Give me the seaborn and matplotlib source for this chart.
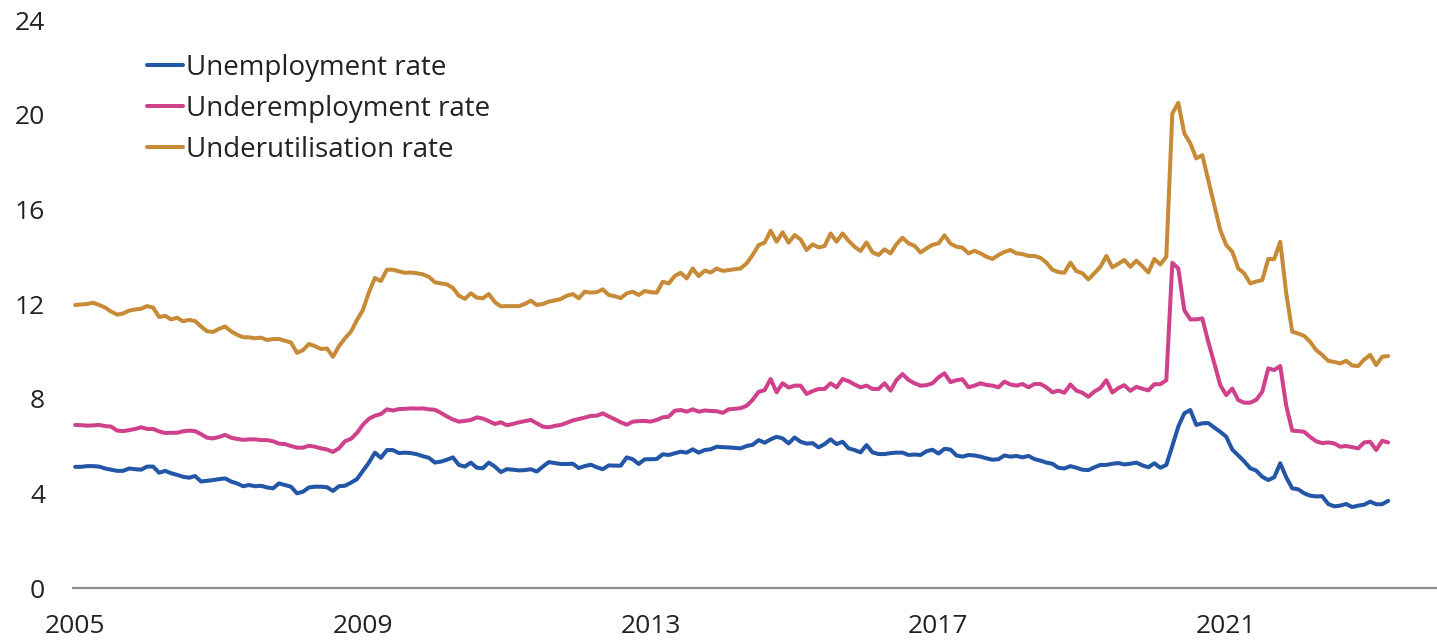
import numpy as np
import pandas as pd
import seaborn as sns
import matplotlib.pyplot as plt

# monthly data, Jan 2005 - Apr 2023 (per cent)
unemployment = [
    5.12, 5.12, 5.15, 5.15, 5.13, 5.05, 5.0, 4.95, 4.95, 5.05, 5.02, 5.0,
    5.13, 5.13, 4.87, 4.95, 4.85, 4.78, 4.7, 4.66, 4.73, 4.5, 4.53, 4.56,
    4.6, 4.63, 4.5, 4.42, 4.3, 4.35, 4.3, 4.32, 4.25, 4.21, 4.42, 4.35,
    4.28, 4.0, 4.07, 4.25, 4.28, 4.28, 4.26, 4.1, 4.3, 4.32, 4.45, 4.6,
    4.95, 5.3, 5.72, 5.5, 5.83, 5.83, 5.7, 5.72, 5.7, 5.65, 5.57, 5.5,
    5.3, 5.34, 5.42, 5.52, 5.2, 5.13, 5.3, 5.08, 5.06, 5.3, 5.13, 4.9,
    5.02, 5.0, 4.97, 4.98, 5.02, 4.92, 5.13, 5.32, 5.28, 5.24, 5.24, 5.25,
    5.07, 5.15, 5.21, 5.1, 5.02, 5.18, 5.17, 5.17, 5.52, 5.44, 5.24, 5.44,
    5.44, 5.45, 5.65, 5.62, 5.69, 5.76, 5.72, 5.86, 5.72, 5.83, 5.86, 5.97,
    5.95, 5.94, 5.92, 5.9, 6.0, 6.05, 6.25, 6.14, 6.28, 6.39, 6.32, 6.11,
    6.36, 6.18, 6.1, 6.12, 5.94, 6.08, 6.28, 6.08, 6.18, 5.9, 5.83, 5.73,
    6.04, 5.73, 5.66, 5.66, 5.7, 5.72, 5.72, 5.62, 5.64, 5.62, 5.78, 5.84,
    5.68, 5.88, 5.85, 5.6, 5.55, 5.62, 5.6, 5.55, 5.48, 5.42, 5.44, 5.6,
    5.55, 5.58, 5.52, 5.58, 5.45, 5.38, 5.3, 5.25, 5.08, 5.05, 5.15, 5.08,
    5.0, 4.98, 5.1, 5.2, 5.2, 5.25, 5.28, 5.22, 5.25, 5.3, 5.18, 5.1,
    5.27, 5.08, 5.2, 6.0, 6.82, 7.38, 7.52, 6.89, 6.96, 6.97, 6.78, 6.6,
    6.39, 5.85, 5.6, 5.35, 5.06, 4.96, 4.7, 4.56, 4.68, 5.27, 4.68, 4.21,
    4.17, 4.0, 3.9, 3.87, 3.88, 3.55, 3.45, 3.48, 3.55, 3.42, 3.48, 3.52,
    3.65, 3.54, 3.54, 3.68,
]

underemployment = [
    6.89, 6.88, 6.86, 6.87, 6.89, 6.84, 6.82, 6.65, 6.63, 6.67, 6.72, 6.79,
    6.72, 6.72, 6.62, 6.55, 6.56, 6.56, 6.62, 6.65, 6.63, 6.5, 6.35, 6.32,
    6.38, 6.47, 6.35, 6.3, 6.26, 6.28, 6.28, 6.25, 6.25, 6.2, 6.1, 6.08,
    6.0, 5.93, 5.93, 6.01, 5.97, 5.9, 5.85, 5.75, 5.9, 6.2, 6.3, 6.55,
    6.9, 7.15, 7.28, 7.35, 7.55, 7.5, 7.56, 7.57, 7.59, 7.58, 7.59, 7.55,
    7.53, 7.4, 7.25, 7.12, 7.03, 7.06, 7.1, 7.21, 7.16, 7.05, 6.93, 7.0,
    6.88, 6.93, 7.0, 7.05, 7.1, 6.96, 6.82, 6.79, 6.85, 6.89, 6.98, 7.08,
    7.14, 7.2, 7.27, 7.28, 7.38, 7.25, 7.13, 7.0, 6.9, 7.03, 7.05, 7.06,
    7.03, 7.1, 7.21, 7.24, 7.49, 7.52, 7.45, 7.55, 7.45, 7.5, 7.48, 7.47,
    7.4, 7.55, 7.57, 7.6, 7.7, 7.95, 8.29, 8.36, 8.83, 8.27, 8.65, 8.47,
    8.55, 8.55, 8.2, 8.32, 8.41, 8.41, 8.65, 8.48, 8.83, 8.74, 8.6, 8.48,
    8.55, 8.41, 8.41, 8.65, 8.34, 8.79, 9.04, 8.79, 8.65, 8.55, 8.57, 8.65,
    8.9, 9.07, 8.7, 8.78, 8.82, 8.48, 8.55, 8.65, 8.58, 8.55, 8.48, 8.72,
    8.6, 8.55, 8.62, 8.48, 8.62, 8.62, 8.48, 8.27, 8.34, 8.25, 8.6, 8.34,
    8.25, 8.08, 8.3, 8.45, 8.78, 8.26, 8.45, 8.57, 8.33, 8.5, 8.42, 8.35,
    8.61, 8.61, 8.78, 13.74, 13.5, 11.74, 11.35, 11.35, 11.39, 10.4, 9.5, 8.57,
    8.15, 8.43, 7.94, 7.83, 7.83, 7.95, 8.29, 9.28, 9.21, 9.38, 7.7, 6.65,
    6.63, 6.6, 6.38, 6.2, 6.12, 6.15, 6.11, 5.97, 6.0, 5.95, 5.9, 6.15,
    6.18, 5.83, 6.22, 6.15,
]

underutilisation = [
    11.96, 11.98, 12.0, 12.05, 11.96, 11.85, 11.68, 11.55, 11.6, 11.72, 11.77, 11.8,
    11.91, 11.85, 11.45, 11.5, 11.35, 11.42, 11.27, 11.33, 11.28, 11.05, 10.85, 10.82,
    10.95, 11.05, 10.85, 10.7, 10.6, 10.59, 10.55, 10.58, 10.48, 10.52, 10.52, 10.45,
    10.37, 9.94, 10.05, 10.31, 10.22, 10.1, 10.12, 9.77, 10.22, 10.55, 10.83, 11.32,
    11.75, 12.5, 13.1, 12.97, 13.45, 13.45, 13.38, 13.32, 13.33, 13.3, 13.25, 13.15,
    12.92, 12.87, 12.83, 12.68, 12.35, 12.22, 12.45, 12.27, 12.24, 12.42, 12.08, 11.9,
    11.91, 11.91, 11.91, 12.0, 12.14, 11.96, 12.0, 12.1, 12.15, 12.21, 12.35, 12.42,
    12.24, 12.52, 12.48, 12.5, 12.62, 12.38, 12.33, 12.25, 12.45, 12.52, 12.38, 12.55,
    12.5, 12.48, 12.94, 12.87, 13.18, 13.32, 13.08, 13.5, 13.18, 13.41, 13.33, 13.5,
    13.4, 13.43, 13.47, 13.5, 13.72, 14.07, 14.49, 14.59, 15.1, 14.63, 15.03, 14.59,
    14.91, 14.73, 14.28, 14.52, 14.39, 14.45, 14.98, 14.63, 14.98, 14.67, 14.42, 14.24,
    14.6, 14.18, 14.07, 14.31, 14.14, 14.53, 14.8, 14.56, 14.46, 14.18, 14.35, 14.5,
    14.56, 14.9, 14.55, 14.42, 14.38, 14.14, 14.25, 14.14, 14.0, 13.9, 14.07, 14.2,
    14.28, 14.14, 14.11, 14.03, 14.03, 13.95, 13.75, 13.45, 13.35, 13.32, 13.75, 13.39,
    13.3, 13.04, 13.3, 13.57, 14.03, 13.55, 13.7, 13.86, 13.57, 13.83, 13.6, 13.33,
    13.9, 13.67, 14.0, 20.05, 20.5, 19.21, 18.79, 18.15, 18.29, 17.24, 16.2, 15.12,
    14.49, 14.21, 13.5, 13.29, 12.87, 12.95, 13.01, 13.9, 13.9, 14.63, 12.45, 10.83,
    10.75, 10.65, 10.4, 10.05, 9.85, 9.6, 9.55, 9.49, 9.6, 9.4, 9.38, 9.65,
    9.85, 9.42, 9.77, 9.8,
]

series_names = ["Unemployment rate", "Underemployment rate", "Underutilisation rate"]
colors = ["#2356a6", "#cf418b", "#c78b38"]
year_ticks = [2005, 2009, 2013, 2017, 2021]
y_ticks = [0, 4, 8, 12, 16, 20, 24]

months = np.arange(len(unemployment))
date = 2005 + months / 12

df = pd.concat([
    pd.DataFrame({"date": date, "value": vals, "series": name})
    for name, vals in zip(series_names, [unemployment, underemployment, underutilisation])
])

sns.set_style("white")
plt.rcParams["font.family"] = ["Open Sans", "DejaVu Sans"]

fig = plt.figure(figsize=(14.37, 6.44), dpi=100)
ax = fig.add_axes([73 / 1437, 56 / 644, 1 - 73 / 1437, 568 / 644])

sns.lineplot(data=df, x="date", y="value", hue="series", hue_order=series_names,
             palette=dict(zip(series_names, colors)), linewidth=2.9, ax=ax)

ax.set_xlim(2005 - 0.03, 2005 + (1437 - 76) / 71.9)
ax.set_ylim(0, 24)
ax.set_xticks(year_ticks)
ax.set_xticklabels([str(y) for y in year_ticks])
ax.set_yticks(y_ticks)
ax.set_xlabel("")
ax.set_ylabel("")
ax.tick_params(axis="both", length=0, labelsize=19, colors="#222222")
ax.tick_params(axis="y", pad=20)
ax.tick_params(axis="x", pad=19)

for side in ["top", "right", "left"]:
    ax.spines[side].set_visible(False)
ax.spines["bottom"].set_color("#8f8f8f")
ax.spines["bottom"].set_linewidth(1.6)

handles, labels = ax.get_legend_handles_labels()
ax.legend(handles, labels, loc="upper left", bbox_to_anchor=(147 / 1437, 1 - 54 / 644),
          bbox_transform=fig.transFigure, frameon=False, fontsize=20,
          handlelength=1.3, handletextpad=0.12, labelspacing=0.47,
          borderpad=0, borderaxespad=0, labelcolor="#222222")

fig.savefig("out.png", dpi=100)
